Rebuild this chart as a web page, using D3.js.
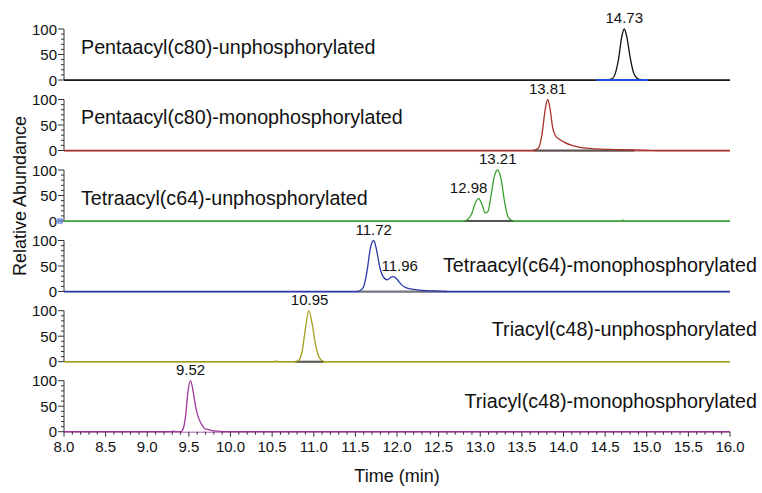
<!DOCTYPE html>
<html>
<head>
<meta charset="utf-8">
<script src="https://cdn.jsdelivr.net/npm/d3@7"></script>
<style>
  body { margin: 0; background: #fff; }
  svg text { font-family: "Liberation Sans", Arial, sans-serif; fill: #111; }
</style>
</head>
<body>
<div id="chart"></div>
<script>
// x ticks (min)
const xTicks = [8.0, 8.5, 9.0, 9.5, 10.0, 10.5, 11.0, 11.5, 12.0, 12.5, 13.0, 13.5, 14.0, 14.5, 15.0, 15.5, 16.0];
const yTicks = [0, 50, 100];

// panel titles, top to bottom
const panelNames = [
    'Pentaacyl(c80)-unphosphorylated',
    'Pentaacyl(c80)-monophosphorylated',
    'Tetraacyl(c64)-unphosphorylated',
    'Tetraacyl(c64)-monophosphorylated',
    'Triacyl(c48)-unphosphorylated',
    'Triacyl(c48)-monophosphorylated'
];
const panelColors = ['#111111', '#a8322a', '#35a02f', '#2a3aa8', '#a39f1c', '#a0379c'];

// traces: [time, relative abundance]
const tracePenta0 = [
    [8.0, 0], [14.50, 0], [14.58, 2], [14.62, 12], [14.66, 40], [14.70, 85], [14.73, 100],
    [14.76, 85], [14.80, 45], [14.84, 15], [14.88, 4], [14.92, 1], [14.96, 0], [16.0, 0]
];
const tracePenta1 = [
    [8.0, 0], [13.63, 0], [13.70, 5], [13.74, 30], [13.78, 80], [13.81, 100], [13.84, 80],
    [13.87, 45], [13.90, 30], [13.95, 22], [14.00, 17], [14.10, 10], [14.20, 6], [14.40, 3],
    [14.70, 1.5], [15.00, 0.5], [15.20, 0], [16.0, 0]
];
const traceTetra0 = [
    [8.0, 0], [12.80, 0], [12.85, 3], [12.90, 15], [12.94, 35], [12.98, 44], [13.02, 33],
    [13.06, 16], [13.09, 18], [13.13, 50], [13.17, 88], [13.21, 100], [13.25, 82], [13.29, 40],
    [13.33, 10], [13.37, 2], [13.42, 0], [14.68, 0], [14.71, 1.5], [14.75, 0], [16.0, 0]
];
const traceTetra1 = [
    [8.0, 0], [11.52, 0], [11.56, 2], [11.60, 10], [11.64, 40], [11.68, 85], [11.72, 100],
    [11.75, 85], [11.79, 50], [11.83, 30], [11.88, 23], [11.93, 28], [11.96, 29], [12.00, 24],
    [12.05, 14], [12.10, 8], [12.20, 4], [12.30, 2], [12.45, 1], [12.60, 0], [16.0, 0]
];
const traceTri0 = [
    [8.0, 0], [10.50, 0], [10.55, 1], [10.60, 0], [10.78, 0], [10.82, 3], [10.86, 20],
    [10.90, 65], [10.94, 100], [10.98, 75], [11.02, 35], [11.06, 10], [11.10, 2], [11.14, 0], [16.0, 0]
];
const traceTri1 = [
    [8.0, 0], [9.28, 0], [9.31, 1], [9.35, 0], [9.40, 0], [9.43, 5], [9.46, 30], [9.49, 80],
    [9.52, 100], [9.55, 80], [9.58, 50], [9.61, 30], [9.64, 18], [9.67, 10], [9.70, 5],
    [9.74, 4], [9.78, 2], [9.85, 1], [9.95, 0], [16.0, 0]
];
const traces = [tracePenta0, tracePenta1, traceTetra0, traceTetra1, traceTri0, traceTri1];

// peak labels per panel
const peakLabels = [
    [{ t: 14.73, v: 100, text: '14.73' }],
    [{ t: 13.81, v: 100, text: '13.81' }],
    [{ t: 12.98, v: 44, text: '12.98', dx: -10 }, { t: 13.21, v: 100, text: '13.21' }],
    [{ t: 11.72, v: 100, text: '11.72' }, { t: 11.96, v: 29, text: '11.96', dx: 6 }],
    [{ t: 10.95, v: 100, text: '10.95' }],
    [{ t: 9.52, v: 100, text: '9.52' }]
];

// integration baseline markers (start, end, colour, on top) per panel
const baseMarks = [
    [[14.39, 15.01, '#2050e0', true]],
    [[13.64, 14.85, '#555', false]],
    [[12.80, 13.40, '#555', false]],
    [[11.52, 12.60, '#777', false]],
    [[10.78, 11.12, '#555', false]],
    []
];

const width = 762, height = 493;
const svg = d3.select('#chart').append('svg')
    .attr('width', width)
    .attr('height', height);

const x = d3.scaleLinear().domain([8, 16]).range([64, 730]);
const baselines = [80, 150.5, 221, 291.5, 361.7, 431.7];
const titleY = [54, 124, 205, 272, 336, 408];
const panelH = 51;

const line = d3.line().curve(d3.curveMonotoneX);

panelNames.forEach((name, i) => {
    const base = baselines[i];
    const y = d3.scaleLinear().domain([0, 100]).range([base, base - panelH]);
    const color = panelColors[i];
    const g = svg.append('g');

    // y axis with minor ticks
    g.append('line')
        .attr('x1', 64).attr('x2', 64)
        .attr('y1', y(100)).attr('y2', y(0))
        .attr('stroke', '#333').attr('stroke-width', 1);
    d3.range(0, 101, 10).forEach(v => {
        const major = v % 50 === 0;
        g.append('line')
            .attr('x1', major ? 58 : 61).attr('x2', 64)
            .attr('y1', y(v)).attr('y2', y(v))
            .attr('stroke', '#333').attr('stroke-width', 1);
    });
    yTicks.forEach(v => {
        g.append('text')
            .attr('x', 57).attr('y', y(v) + 5.5)
            .attr('text-anchor', 'end')
            .style('font-size', '15px')
            .text(v);
    });

    // flat baseline
    g.append('line')
        .attr('x1', x(8)).attr('x2', x(16))
        .attr('y1', base + 0.5).attr('y2', base + 0.5)
        .attr('stroke', color).attr('stroke-width', 1)
        .attr('opacity', 0.8);

    const drawMark = m => g.append('line')
        .attr('x1', x(m[0])).attr('x2', x(m[1]))
        .attr('y1', base).attr('y2', base)
        .attr('stroke', m[2]).attr('stroke-width', 2);
    baseMarks[i].filter(m => !m[3]).forEach(drawMark);

    // trace
    g.append('path')
        .datum(traces[i].map(d => [x(d[0]), y(d[1])]))
        .attr('fill', 'none')
        .attr('stroke', color)
        .attr('stroke-width', 1.3)
        .attr('d', line);

    baseMarks[i].filter(m => m[3]).forEach(drawMark);

    // peak labels
    peakLabels[i].forEach(p => {
        g.append('text')
            .attr('x', x(p.t) + (p.dx || 0))
            .attr('y', y(p.v) - 6)
            .attr('text-anchor', 'middle')
            .style('font-size', '15px')
            .text(p.text);
    });

    // panel title
    const right = i >= 3;
    g.append('text')
        .attr('x', right ? 757 : 81)
        .attr('y', titleY[i])
        .attr('text-anchor', right ? 'end' : 'start')
        .style('font-size', '19.7px')
        .text(name);
});

// small blue marker at left of the third panel
svg.append('rect')
    .attr('x', 58).attr('y', baselines[2] - 2)
    .attr('width', 4).attr('height', 4)
    .attr('fill', 'none').attr('stroke', '#3060e0').attr('stroke-width', 1);

// x axis on bottom panel
const xAxisY = baselines[5];
const gx = svg.append('g');
d3.range(80, 161).forEach(k => {
    const t = k / 10;
    const major = k % 5 === 0;
    gx.append('line')
        .attr('x1', x(t)).attr('x2', x(t))
        .attr('y1', xAxisY).attr('y2', xAxisY + (major ? 5 : 3))
        .attr('stroke', '#333').attr('stroke-width', 1);
});
xTicks.forEach(t => {
    gx.append('text')
        .attr('x', x(t)).attr('y', 452)
        .attr('text-anchor', 'middle')
        .style('font-size', '15px')
        .text(t.toFixed(1));
});

// axis titles
svg.append('text')
    .attr('x', x(12)).attr('y', 482)
    .attr('text-anchor', 'middle')
    .style('font-size', '18px')
    .text('Time (min)');

svg.append('text')
    .attr('transform', 'translate(26,196) rotate(-90)')
    .attr('text-anchor', 'middle')
    .style('font-size', '18px')
    .text('Relative Abundance');
</script>
</body>
</html>
